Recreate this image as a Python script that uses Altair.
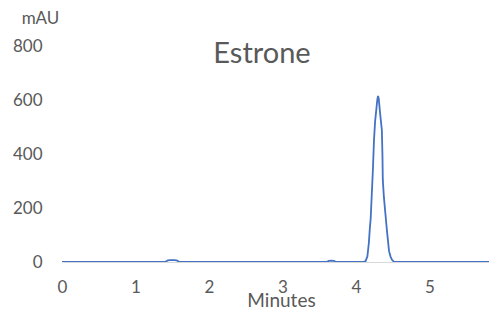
import altair as alt
import pandas as pd

time_min = [0.0, 1.40, 1.44, 1.47, 1.53, 1.56, 1.60, 3.60, 3.63, 3.66, 3.70, 3.73,
            4.10, 4.13, 4.155, 4.175, 4.19, 4.20, 4.215, 4.23, 4.245, 4.26, 4.275,
            4.29, 4.30, 4.31, 4.325, 4.34, 4.352, 4.36, 4.365, 4.38, 4.40, 4.42,
            4.435, 4.45, 4.47, 4.49, 4.52, 5.92]
mau = [0, 0, 6, 7, 7, 6, 0, 0, 4, 5, 4, 0,
       0, 3, 20, 70, 130, 160, 250, 340, 450, 520, 560,
       600, 615, 605, 560, 520, 490, 400, 305, 240, 180, 120,
       80, 40, 20, 8, 0, 0]

df = pd.DataFrame({"t": time_min, "a": mau})

FONT = "Lato"
GRAY = "#595959"

line = alt.Chart(df).mark_line(color="#4472C4", strokeWidth=1.8, clip=True).encode(
    x=alt.X("t:Q", scale=alt.Scale(domain=[0, 5.81], nice=False, zero=False),
            axis=alt.Axis(values=[0, 1, 2, 3, 4, 5], format="d", title="Minutes",
                          grid=False, ticks=False, tickSize=0, domain=True,
                          domainColor="#d9d9d9", domainWidth=1, labelFlush=False,
                          labelPadding=17, labelFontSize=17, labelColor=GRAY,
                          labelFont=FONT, titleFont=FONT, titleFontSize=19,
                          titleFontWeight="normal", titleColor=GRAY,
                          titleBaseline="alphabetic", titleY=44, titleX=219)),
    y=alt.Y("a:Q", scale=alt.Scale(domain=[0, 800], nice=False),
            axis=alt.Axis(values=[0, 200, 400, 600, 800], title="mAU",
                          grid=False, ticks=False, tickSize=0, domain=False,
                          labelPadding=20, labelFontSize=17, labelColor=GRAY,
                          labelFont=FONT, titleFont=FONT, titleFontSize=17,
                          titleFontWeight="normal", titleColor=GRAY,
                          titleAngle=0, titleAlign="center",
                          titleBaseline="alphabetic", titleX=-22, titleY=-23)),
)

title = alt.Chart(pd.DataFrame({"s": ["Estrone"]})).mark_text(
    font=FONT, fontSize=29, color=GRAY, baseline="alphabetic", align="center"
).encode(text="s:N", x=alt.value(200), y=alt.value(17))

chart = alt.layer(line, title).properties(
    width=427, height=216,
    padding={"left": 54, "top": 38, "right": 0, "bottom": 48},
    autosize=alt.AutoSizeParams(type="none"),
).configure_view(stroke=None)

chart.save("out.html", embed_options={"renderer": "svg", "actions": False})
